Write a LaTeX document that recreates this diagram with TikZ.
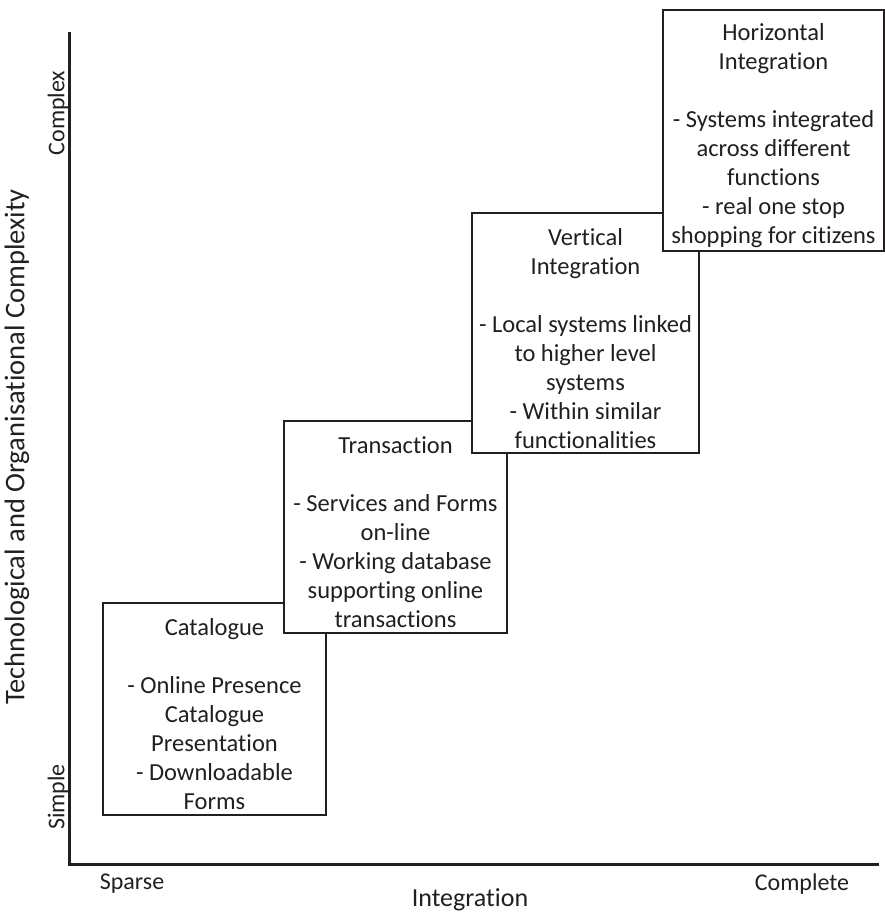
\documentclass[tikz,border=0pt]{standalone}
\usepackage{fontspec}
\setmainfont[Ligatures=NoCommon]{Carlito}
\usetikzlibrary{positioning}
\definecolor{ink}{HTML}{231F20}

\begin{document}
\begin{tikzpicture}[x=1pt,y=-1pt, every node/.style={text=ink},
  stage/.style={draw=ink, line width=1.4pt, fill=white, align=center, inner sep=0pt,
    font=\fontsize{24.5}{29}\selectfont},
  axislabel/.style={font=\fontsize{26}{30}\selectfont},
  endlabel/.style={font=\fontsize{24}{28}\selectfont}]

\useasboundingbox (0,0) rectangle (885,915);

% axes
\coordinate (ytop) at (69,32);
\coordinate (origin) at (69,864);
\coordinate (xend) at (879,864);
\draw[ink, line width=3pt] (ytop) -- (origin) -- (xend);

\node[endlabel, rotate=90] (complex) at (58,113) {Complex};
\node[endlabel, rotate=90] (simple) at (58,797) {Simple};
\node[endlabel] (sparse) at (132,884) {Sparse};
\node[endlabel] (complete) at (802,884) {Complete};

\node[axislabel, rotate=90, font=\fontsize{28.5}{32}\selectfont] (ylab) at (17,447) {Technological and Organisational Complexity};
\node[axislabel] (xlab) at (470,900) {Integration};

% stages, each drawn over the one before
\node[stage, minimum width=223pt, minimum height=212pt] (catalogue) at (214.5,709)
  {\mbox{}\\[-1pt]Catalogue\\[29pt]- Online Presence\\Catalogue\\Presentation\\- Downloadable\\Forms};
\node[stage, minimum width=223pt, minimum height=212pt] (transaction) at (395.5,527)
  {\mbox{}\\[-1pt]Transaction\\[29pt]- Services and Forms\\on-line\\- Working database\\supporting online\\transactions};
\node[stage, minimum width=227pt, minimum height=240pt] (vertical) at (585.5,333)
  {\mbox{}\\[-1pt]Vertical\\Integration\\[29pt]- Local systems linked\\to higher level\\systems\\- Within similar\\functionalities};
\node[stage, minimum width=221pt, minimum height=241pt] (horizontal) at (773.5,130.5)
  {\mbox{}\\[-1pt]Horizontal\\Integration\\[29pt]- Systems integrated\\across different\\functions\\- real one stop\\shopping for citizens};

\end{tikzpicture}
\end{document}
